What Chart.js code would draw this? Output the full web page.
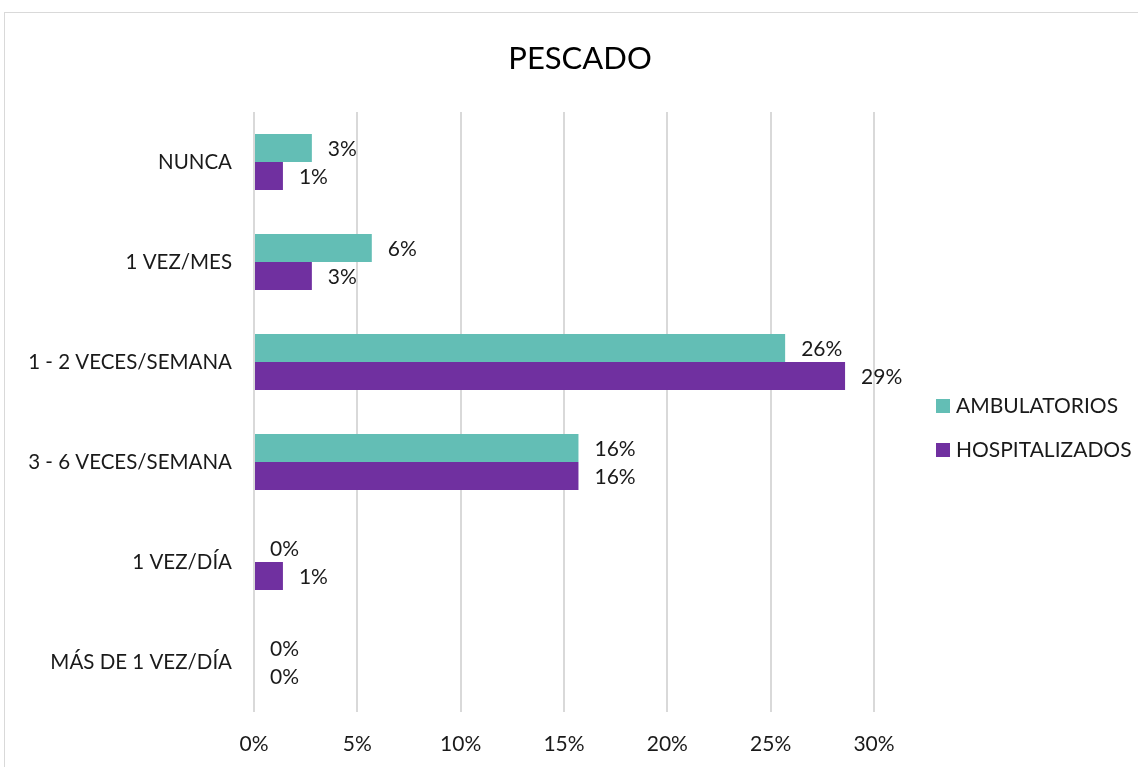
<!DOCTYPE html>
<html>
<head>
<meta charset="utf-8">
<script src="https://cdn.jsdelivr.net/npm/chart.js@4.4.0/dist/chart.umd.min.js"></script>
<style>
  html, body { margin: 0; padding: 0; background: #fff; overflow: hidden; }
  #frame { position: absolute; left: 4px; top: 12px; width: 1150px; height: 770px; border: 1.5px solid #d9d9d9; }
  #wrap { position: absolute; left: 0; top: 0; width: 1160px; height: 767px; }
</style>
</head>
<body>
<div id="frame"></div>
<div id="wrap"><canvas id="myChart" width="1160" height="767"></canvas></div>
<script>
// Categories and values (percent)
let labels = ['NUNCA', '1 VEZ/MES', '1 - 2 VECES/SEMANA', '3 - 6 VECES/SEMANA', '1 VEZ/DÍA', 'MÁS DE 1 VEZ/DÍA'];
let ambulatorios = [2.8, 5.7, 25.7, 15.7, 0, 0];
let hospitalizados = [1.4, 2.8, 28.6, 15.7, 1.4, 0];
let seriesNames = ['AMBULATORIOS', 'HOSPITALIZADOS'];
let chartTitle = 'PESCADO';
let colors = ['#63beb5', '#7030a0'];

let fontFamily = 'Lato, "Noto Sans", sans-serif';

// title, centred over the whole frame
let topTitle = {
    id: 'topTitle',
    afterDraw(chart) {
        let ctx = chart.ctx;
        ctx.save();
        ctx.font = '31px ' + fontFamily;
        ctx.fillStyle = '#000';
        ctx.textAlign = 'center';
        ctx.textBaseline = 'middle';
        ctx.fillText(chartTitle, 580, 59);
        ctx.restore();
    }
};

// value labels at the end of each bar
let barLabels = {
    id: 'barLabels',
    afterDatasetsDraw(chart) {
        let ctx = chart.ctx;
        ctx.save();
        ctx.font = '21px ' + fontFamily;
        ctx.fillStyle = '#1a1a1a';
        ctx.textAlign = 'left';
        ctx.textBaseline = 'middle';
        chart.data.datasets.forEach((ds, i) => {
            let meta = chart.getDatasetMeta(i);
            meta.data.forEach((bar, j) => {
                ctx.fillText(Math.round(ds.data[j]) + '%', bar.x + 16, bar.y + 1);
            });
        });
        ctx.restore();
    }
};

// legend on the right side
let sideLegend = {
    id: 'sideLegend',
    afterDraw(chart) {
        let ctx = chart.ctx;
        let area = chart.chartArea;
        ctx.save();
        ctx.font = '21px ' + fontFamily;
        ctx.textBaseline = 'middle';
        chart.data.datasets.forEach((ds, i) => {
            let x = area.right + 62;
            let y = area.top + 294 + i * 44;
            ctx.fillStyle = ds.backgroundColor;
            ctx.fillRect(x, y - 7, 14, 14);
            ctx.fillStyle = '#1a1a1a';
            ctx.fillText(ds.label, x + 20, y);
        });
        ctx.restore();
    }
};

let chart = new Chart(document.getElementById('myChart').getContext('2d'), {
    type: 'bar',
    data: {
        labels: labels,
        datasets: [
            { label: seriesNames[0], data: ambulatorios, backgroundColor: colors[0] },
            { label: seriesNames[1], data: hospitalizados, backgroundColor: colors[1] }
        ]
    },
    options: {
        indexAxis: 'y',
        responsive: false,
        animation: false,
        categoryPercentage: 0.56,
        barPercentage: 1.0,
        layout: { padding: { left: 0, right: 286, top: 112, bottom: 0 } },
        plugins: {
            legend: { display: false },
            tooltip: { enabled: false },
            title: { display: false }
        },
        scales: {
            x: {
                min: 0,
                max: 30,
                ticks: {
                    stepSize: 5,
                    padding: 20,
                    color: '#1a1a1a',
                    font: { family: fontFamily, size: 21 },
                    callback: v => v + '%'
                },
                grid: { color: '#d9d9d9', lineWidth: 2, drawTicks: false },
                border: { display: false },
                afterFit: s => { s.height = 55; }
            },
            y: {
                ticks: {
                    padding: 14,
                    color: '#1a1a1a',
                    font: { family: fontFamily, size: 20.5 }
                },
                grid: { display: false },
                border: { display: false },
                afterFit: s => { s.width = 254; }
            }
        }
    },
    plugins: [barLabels, sideLegend, topTitle]
});
</script>
</body>
</html>
